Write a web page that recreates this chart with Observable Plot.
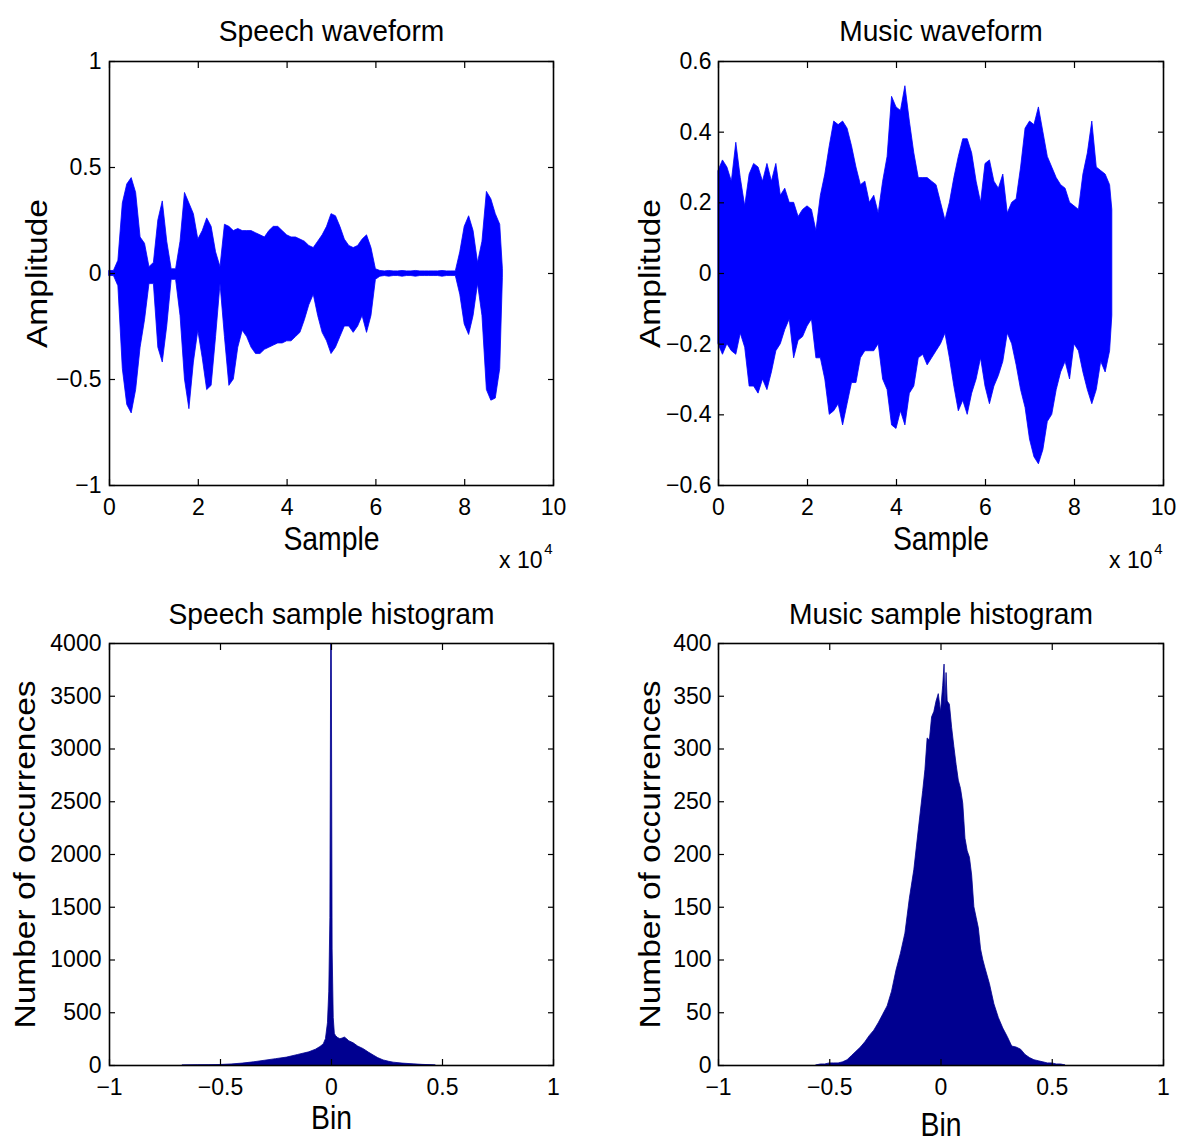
<!DOCTYPE html>
<html>
<head>
<meta charset="utf-8">
<script src="https://cdn.jsdelivr.net/npm/d3@7"></script>
<script src="https://cdn.jsdelivr.net/npm/@observablehq/plot@0.6"></script>
<style>
  html, body { margin: 0; padding: 0; background: #fff; }
  #fig { position: relative; width: 1178px; height: 1142px; background: #fff; overflow: hidden; }
  #fig > div, #fig > svg { position: absolute; }
</style>
</head>
<body>
<div id="fig"></div>
<script>
// ---------------- DATA ----------------
// Speech waveform envelope (sample position in thousands, upper / lower amplitude)
const speechK = [0,1,2,3,4,5,6,7,8,9,10,11,12,13,14,15,16,17,18,19,20,21,22,23,24,25,26,27,28,29,30,31,32,33,34,35,36,37,38,39,40,41,42,43,44,45,46,47,48,49,50,51,52,53,54,55,56,57,58,59,60,61,62,63,64,65,66,67,68,69,70,71,72,73,74,75,76,77,78,79,80,81,82,83,84,85,86,87,88,88.6];
const speechUpper = [0.012,0.012,0.06,0.33,0.42,0.45,0.38,0.17,0.14,0.03,0.05,0.25,0.34,0.15,0.02,0.02,0.15,0.38,0.33,0.28,0.16,0.2,0.26,0.22,0.1,0.03,0.23,0.22,0.2,0.21,0.2,0.2,0.2,0.19,0.18,0.17,0.2,0.22,0.22,0.2,0.18,0.17,0.17,0.16,0.15,0.13,0.12,0.15,0.18,0.22,0.28,0.27,0.22,0.16,0.13,0.12,0.13,0.16,0.18,0.12,0.02,0.012,0.01,0.012,0.01,0.01,0.012,0.01,0.01,0.012,0.01,0.01,0.01,0.01,0.01,0.012,0.01,0.01,0.01,0.1,0.22,0.27,0.2,0.05,0.15,0.385,0.35,0.28,0.23,0.02];
const speechLower = [-0.012,-0.012,-0.06,-0.45,-0.62,-0.66,-0.55,-0.35,-0.22,-0.05,-0.05,-0.35,-0.42,-0.25,-0.03,-0.03,-0.2,-0.5,-0.64,-0.42,-0.27,-0.4,-0.55,-0.53,-0.3,-0.05,-0.3,-0.53,-0.5,-0.35,-0.27,-0.3,-0.35,-0.38,-0.38,-0.36,-0.35,-0.34,-0.33,-0.33,-0.32,-0.32,-0.3,-0.28,-0.22,-0.15,-0.1,-0.2,-0.28,-0.32,-0.38,-0.35,-0.3,-0.25,-0.25,-0.28,-0.25,-0.2,-0.28,-0.2,-0.03,-0.015,-0.012,-0.015,-0.012,-0.012,-0.015,-0.012,-0.012,-0.015,-0.012,-0.012,-0.012,-0.012,-0.012,-0.015,-0.012,-0.012,-0.012,-0.1,-0.24,-0.29,-0.2,-0.05,-0.2,-0.55,-0.6,-0.59,-0.45,-0.02];

// Music waveform envelope
const musicK = [0,1,2,3,4,5,6,7,8,9,10,11,12,13,14,15,16,17,18,19,20,21,22,23,24,25,26,27,28,29,30,31,32,33,34,35,36,37,38,39,40,41,42,43,44,45,46,47,48,49,50,51,52,53,54,55,56,57,58,59,60,61,62,63,64,65,66,67,68,69,70,71,72,73,74,75,76,77,78,79,80,81,82,83,84,85,86,87,88,88.5];
const musicUpper = [0.29,0.32,0.3,0.26,0.37,0.27,0.19,0.28,0.31,0.3,0.26,0.31,0.26,0.31,0.22,0.24,0.2,0.2,0.16,0.18,0.19,0.18,0.12,0.22,0.28,0.36,0.43,0.42,0.43,0.41,0.36,0.3,0.25,0.26,0.2,0.22,0.17,0.26,0.33,0.5,0.47,0.46,0.53,0.43,0.34,0.27,0.27,0.27,0.26,0.25,0.2,0.15,0.2,0.27,0.33,0.38,0.38,0.34,0.26,0.2,0.31,0.32,0.26,0.24,0.28,0.17,0.2,0.21,0.3,0.41,0.43,0.42,0.47,0.4,0.33,0.3,0.27,0.25,0.24,0.2,0.19,0.18,0.28,0.34,0.43,0.3,0.29,0.28,0.25,0.18];
const musicLower = [-0.2,-0.23,-0.2,-0.22,-0.23,-0.17,-0.21,-0.32,-0.32,-0.34,-0.3,-0.33,-0.28,-0.22,-0.2,-0.16,-0.13,-0.24,-0.19,-0.18,-0.15,-0.13,-0.24,-0.24,-0.3,-0.4,-0.39,-0.37,-0.43,-0.37,-0.31,-0.31,-0.24,-0.22,-0.22,-0.22,-0.2,-0.3,-0.33,-0.43,-0.44,-0.39,-0.43,-0.34,-0.32,-0.24,-0.23,-0.26,-0.24,-0.22,-0.2,-0.17,-0.24,-0.32,-0.39,-0.36,-0.4,-0.34,-0.3,-0.24,-0.32,-0.37,-0.32,-0.29,-0.25,-0.17,-0.2,-0.26,-0.33,-0.38,-0.47,-0.52,-0.54,-0.5,-0.42,-0.4,-0.33,-0.28,-0.25,-0.3,-0.2,-0.22,-0.28,-0.33,-0.37,-0.33,-0.25,-0.28,-0.22,-0.12];

// Speech histogram (bin centre, count)
const speechBins = [-0.67,-0.6,-0.55,-0.5,-0.45,-0.4,-0.35,-0.3,-0.25,-0.2,-0.15,-0.1,-0.07,-0.05,-0.035,-0.025,-0.016,-0.01,-0.005,0,0.005,0.01,0.015,0.02,0.03,0.04,0.05,0.06,0.07,0.08,0.1,0.12,0.145,0.17,0.19,0.21,0.235,0.26,0.28,0.32,0.37,0.41,0.455,0.47];
const speechCounts = [0,2,3,5,10,18,30,45,60,75,100,125,150,175,200,250,400,700,1400,5000,1100,450,300,280,260,250,255,265,250,230,210,180,155,120,95,70,48,35,27,18,11,6,2,0];

// Music histogram (bin centre, count)
const musicBins = [-0.56,-0.54,-0.52,-0.5,-0.48,-0.46,-0.44,-0.42,-0.4,-0.38,-0.36,-0.34,-0.32,-0.3,-0.28,-0.26,-0.24,-0.22,-0.2,-0.18,-0.16,-0.14,-0.12,-0.1,-0.08,-0.07,-0.06,-0.05,-0.04,-0.03,-0.02,-0.01,0,0.01,0.016,0.02,0.025,0.03,0.04,0.05,0.06,0.07,0.08,0.09,0.1,0.11,0.12,0.13,0.14,0.15,0.16,0.17,0.18,0.19,0.2,0.22,0.24,0.26,0.28,0.3,0.32,0.34,0.36,0.38,0.4,0.42,0.44,0.46,0.48,0.5,0.52,0.54,0.56];
const musicCounts = [0,1,1,2,2,2,3,5,9,13,17,22,28,33,40,48,56,70,90,106,125,158,185,223,260,280,310,308,330,335,345,352,335,360,380,340,372,345,342,320,302,285,270,262,248,215,203,197,180,150,140,130,110,100,92,77,58,45,35,27,18,17,15,10,7,5,4,3,2,2,1,1,0];

// Tick values and labels
const waveXTicks = [0,20000,40000,60000,80000,100000];
const speechYTicks = [-1,-0.5,0,0.5,1];
const musicYTicks = [-0.6,-0.4,-0.2,0,0.2,0.4,0.6];
const histXTicks = [-1,-0.5,0,0.5,1];
const speechHistYTicks = [0,500,1000,1500,2000,2500,3000,3500,4000];
const musicHistYTicks = [0,50,100,150,200,250,300,350,400];

const titles = ["Speech waveform","Music waveform","Speech sample histogram","Music sample histogram"];
const xLabels = ["Sample","Sample","Bin","Bin"];
const yLabels = ["Amplitude","Amplitude","Number of occurrences","Number of occurrences"];

// ---------------- DRAWING ----------------
const WAVE = "#0000ff";
const HIST = "#000090";
const REG = "'Liberation Sans', Arial, Helvetica, sans-serif";
const fmtNum = d => (d < 0 ? "\u2212" + String(+Math.abs(d).toFixed(4)) : String(+d.toFixed(4)));
const SQUEEZE = new Map([
  ...titles.map(t => [t, 0.94]),
  ...xLabels.map(t => [t, 0.86]),
  ...yLabels.map(t => [t, 0.86])
]);

function panel(cfg) {
  const marks = [
    ...cfg.marks,
    Plot.frame({stroke: "black", strokeWidth: 1.6}),
    Plot.axisX(cfg.xTicks, {anchor: "bottom", tickSize: 0, tickPadding: cfg.xPad, tickFormat: cfg.xFmt, fontSize: 23, label: null}),
    Plot.axisX(cfg.xTicks, {anchor: "bottom", tickSize: -6, tickFormat: () => "", label: null, strokeWidth: 1.2}),
    Plot.axisX(cfg.xTicks, {anchor: "top", tickSize: -6, tickFormat: () => "", label: null, strokeWidth: 1.2}),
    Plot.axisY(cfg.yTicks, {anchor: "left", tickSize: 0, tickPadding: cfg.yPad, tickFormat: fmtNum, fontSize: 23, label: null}),
    Plot.axisY(cfg.yTicks, {anchor: "left", tickSize: -6, tickFormat: () => "", label: null, strokeWidth: 1.2}),
    Plot.axisY(cfg.yTicks, {anchor: "right", tickSize: -6, tickFormat: () => "", label: null, strokeWidth: 1.2}),
    Plot.text([cfg.title], {frameAnchor: "top", dy: cfg.titleDy, lineAnchor: "bottom", textAnchor: "middle", fontSize: 30, fill: "black"}),
    Plot.text([cfg.xLabel], {frameAnchor: "bottom", dy: cfg.xLabelDy, lineAnchor: "bottom", textAnchor: "middle", fontSize: 33, fill: "black"}),
    Plot.text([cfg.yLabel], {frameAnchor: "left", dx: cfg.yLabelDx, rotate: -90, lineAnchor: "middle", textAnchor: "middle", fontSize: 33.5, fill: "black"})
  ];
  if (cfg.exponent) {
    marks.push(Plot.text(["x 10"], {frameAnchor: "bottom-right", textAnchor: "end", dx: -11, dy: 82, lineAnchor: "bottom", fontSize: 23, fill: "black"}));
    marks.push(Plot.text(["4"], {frameAnchor: "bottom-right", textAnchor: "end", dx: -1, dy: 68, lineAnchor: "bottom", fontSize: 15, fill: "black"}));
  }
  const svg = Plot.plot({
    width: 589, height: 571,
    marginLeft: cfg.ml, marginRight: cfg.mr, marginTop: cfg.mt, marginBottom: cfg.mb,
    x: {domain: cfg.xDomain},
    y: {domain: cfg.yDomain},
    style: {fontFamily: REG, fontSize: "23px", color: "black", background: "white", overflow: "visible"},
    marks
  });
  // horizontally condensed lettering for titles and axis labels, as in the original figure
  svg.querySelectorAll("text").forEach(t => {
    const k = SQUEEZE.get(t.textContent);
    if (!k) return;
    const tr = t.getAttribute("transform");
    if (tr && /translate\(/.test(tr)) {
      t.setAttribute("transform", tr.replace(/(translate\([^)]*\))/, `$1 scale(${k},1)`));
    } else {
      const x = +(t.getAttribute("x") || 0);
      t.setAttribute("transform", `translate(${x},0) scale(${k},1) translate(${-x},0)` + (tr ? " " + tr : ""));
    }
  });
  svg.style.left = cfg.left + "px";
  svg.style.top = cfg.top + "px";
  return svg;
}

const speechWave = speechK.map((k, i) => ({s: k * 1000, lo: speechLower[i], hi: speechUpper[i]}));
const musicWave = musicK.map((k, i) => ({s: k * 1000, lo: musicLower[i], hi: musicUpper[i]}));
const speechHist = speechBins.map((b, i) => ({b, c: speechCounts[i]}));
const musicHist = musicBins.map((b, i) => ({b, c: musicCounts[i]}));

const fig = document.getElementById("fig");

fig.appendChild(panel({
  left: 0, top: 0, ml: 109, mr: 36, mt: 61, mb: 86,
  xDomain: [0, 100000], yDomain: [-1, 1],
  xTicks: waveXTicks, yTicks: speechYTicks, xFmt: d => String(d / 10000),
  xPad: 13, yPad: 8,
  title: titles[0], xLabel: xLabels[0], yLabel: yLabels[0],
  titleDy: -21, xLabelDy: 64, yLabelDx: -72, exponent: true,
  marks: [Plot.areaY(speechWave, {x: "s", y1: "lo", y2: "hi", fill: WAVE, stroke: WAVE, strokeWidth: 0.8, curve: "linear"})]
}));

fig.appendChild(panel({
  left: 589, top: 0, ml: 129, mr: 15, mt: 61, mb: 86,
  xDomain: [0, 100000], yDomain: [-0.6, 0.6],
  xTicks: waveXTicks, yTicks: musicYTicks, xFmt: d => String(d / 10000),
  xPad: 13, yPad: 7,
  title: titles[1], xLabel: xLabels[1], yLabel: yLabels[1],
  titleDy: -21, xLabelDy: 64, yLabelDx: -68, exponent: true,
  marks: [Plot.areaY(musicWave, {x: "s", y1: "lo", y2: "hi", fill: WAVE, stroke: WAVE, strokeWidth: 0.8, curve: "linear"})]
}));

fig.appendChild(panel({
  left: 0, top: 571, ml: 109, mr: 36, mt: 72, mb: 77,
  xDomain: [-1, 1], yDomain: [0, 4000],
  xTicks: histXTicks, yTicks: speechHistYTicks, xFmt: fmtNum,
  xPad: 13, yPad: 8,
  title: titles[2], xLabel: xLabels[2], yLabel: yLabels[2],
  titleDy: -20, xLabelDy: 63, yLabelDx: -84, exponent: false,
  marks: [Plot.areaY(speechHist, {x: "b", y: "c", fill: HIST, stroke: HIST, strokeWidth: 0.8, curve: "linear", clip: true})]
}));

fig.appendChild(panel({
  left: 589, top: 571, ml: 129, mr: 15, mt: 72, mb: 77,
  xDomain: [-1, 1], yDomain: [0, 400],
  xTicks: histXTicks, yTicks: musicHistYTicks, xFmt: fmtNum,
  xPad: 13, yPad: 7,
  title: titles[3], xLabel: xLabels[3], yLabel: yLabels[3],
  titleDy: -20, xLabelDy: 70, yLabelDx: -68, exponent: false,
  marks: [Plot.areaY(musicHist, {x: "b", y: "c", fill: HIST, stroke: HIST, strokeWidth: 0.8, curve: "linear", clip: true})]
}));
</script>
</body>
</html>
